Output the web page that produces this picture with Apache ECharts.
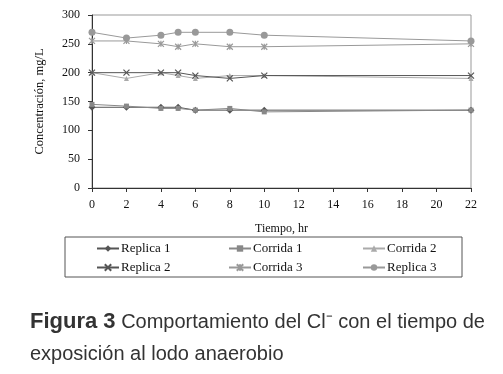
<!DOCTYPE html>
<html>
<head>
<meta charset="utf-8">
<script src="https://cdn.jsdelivr.net/npm/echarts@6/dist/echarts.min.js"></script>
<style>
  html, body { margin: 0; padding: 0; background: #fff; }
  #main { width: 503px; height: 374px; }
</style>
</head>
<body>
<div id="main"></div>
<script>
// horas de muestreo
const horas = [0, 2, 4, 5, 6, 8, 10, 22];

// concentracion Cl- (mg/L) por serie
const replica1 = [140, 140, 140, 140, 135, 135, 135, 135];
const corrida1 = [145, 142, 138, 138, 135, 138, 132, 135];
const corrida2 = [200, 190, 200, 195, 190, 195, 195, 190];
const replica2 = [200, 200, 200, 200, 195, 190, 195, 195];
const corrida3 = [255, 255, 250, 245, 250, 245, 245, 250];
const replica3 = [270, 260, 265, 270, 270, 270, 265, 255];

const xPath = "path://M0,0L10,10M10,0L0,10";
const starPath = "path://M0,0L10,10M10,0L0,10M5,0L5,10";

const serif = "Liberation Serif";

let mkSerie = (name, data, color, symbol, size) => ({
  name: name,
  type: "line",
  data: horas.map((h, i) => [h, data[i]]),
  symbol: symbol,
  symbolSize: size,
  color: color,
  lineStyle: { color: color, width: 1 },
  itemStyle: { color: color, borderColor: color, borderWidth: symbol.startsWith("path") ? 1.2 : 0 },
});

let chart = echarts.init(document.getElementById("main"));
let legendBase = {
  orient: "vertical",
  top: 242,
  padding: 0,
  itemGap: 6,
  itemWidth: 22,
  itemHeight: 8,
  textStyle: { fontFamily: serif, fontSize: 13, color: "#111", padding: [0, 0, 0, -3] },
};
let option = {
  animation: false,
  grid: {
    left: 92,
    top: 15,
    right: 32,
    bottom: 186,
    show: true,
    borderColor: "#999",
    borderWidth: 1,
  },
  xAxis: {
    type: "value",
    min: 0,
    max: 22,
    interval: 2,
    name: "Tiempo, hr",
    nameLocation: "middle",
    nameGap: 35,
    nameTextStyle: { fontFamily: serif, fontSize: 12, color: "#111" },
    axisLine: { lineStyle: { color: "#333" } },
    axisTick: { show: true, length: 4, lineStyle: { color: "#333" } },
    axisLabel: { fontFamily: serif, fontSize: 12, color: "#111", margin: 11 },
    splitLine: { show: false },
  },
  yAxis: {
    type: "value",
    min: 0,
    max: 300,
    interval: 50,
    name: "Concentración, mg/L",
    nameLocation: "middle",
    nameGap: 46,
    nameTextStyle: { fontFamily: serif, fontSize: 12.5, color: "#111" },
    axisLine: { show: true, lineStyle: { color: "#333" } },
    axisTick: { show: true, length: 4, lineStyle: { color: "#333" } },
    axisLabel: { fontFamily: serif, fontSize: 12, color: "#111", margin: 12 },
    splitLine: { show: false },
  },
  legend: [
    Object.assign({}, legendBase, { left: 96, data: ["Replica 1", "Replica 2"] }),
    Object.assign({}, legendBase, { left: 228, data: ["Corrida 1", "Corrida 3"] }),
    Object.assign({}, legendBase, { left: 362, data: ["Corrida 2", "Replica 3"] }),
  ],
  graphic: [
    {
      type: "rect",
      shape: { x: 65, y: 237, width: 397, height: 40 },
      style: { fill: "none", stroke: "#555", lineWidth: 1 },
    },
  ],
  title: {
    left: 30,
    top: 306,
    padding: 0,
    text: "{b|Figura 3} Comportamiento del Cl⁻ con el tiempo de\nexposición al lodo anaerobio",
    textStyle: {
      fontFamily: "Liberation Sans",
      fontSize: 20,
      fontWeight: "normal",
      color: "#333",
      lineHeight: 32,
      rich: {
        b: { fontFamily: "Liberation Sans", fontSize: 22, fontWeight: "bold", color: "#333", lineHeight: 32 },
      },
    },
  },
  series: [
    mkSerie("Replica 1", replica1, "#555", "diamond", 7),
    mkSerie("Corrida 1", corrida1, "#888", "rect", 5),
    mkSerie("Corrida 2", corrida2, "#aaa", "triangle", 5),
    mkSerie("Replica 2", replica2, "#555", xPath, 6),
    mkSerie("Corrida 3", corrida3, "#999", starPath, 6),
    mkSerie("Replica 3", replica3, "#999", "circle", 7),
  ],
};
chart.setOption(option);
</script>
</body>
</html>
